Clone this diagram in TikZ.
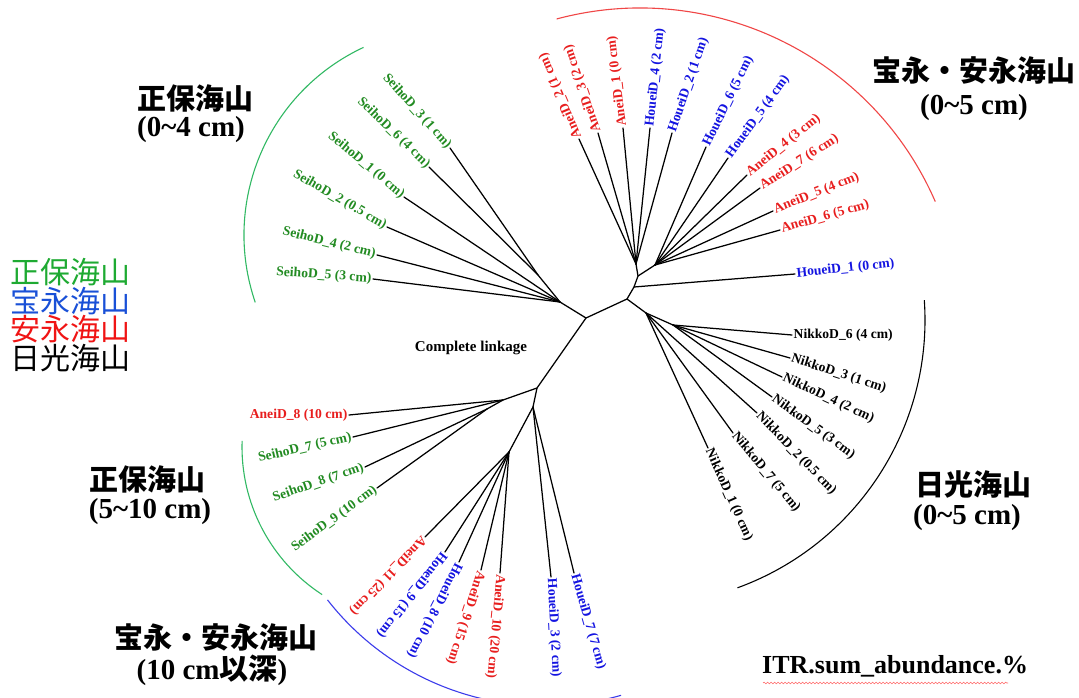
\documentclass[tikz,border=0pt]{standalone}
\usepackage{fontspec}
\setmainfont{Liberation Serif}
\newfontfamily\cjk{Noto Sans CJK JP}
\usetikzlibrary{decorations.pathmorphing}
\definecolor{lgreen}{RGB}{34,139,34}
\definecolor{lred}{RGB}{232,30,30}
\definecolor{lblue}{RGB}{20,20,225}
\definecolor{agreen}{RGB}{50,185,100}
\definecolor{ared}{RGB}{240,70,70}
\definecolor{ablue}{RGB}{60,60,235}
\definecolor{kgreen}{RGB}{30,170,50}
\definecolor{kblue}{RGB}{25,80,215}
\definecolor{kred}{RGB}{240,20,20}
\tikzset{
  tree/.style={line width=1.25pt, black, line cap=round},
  leaf/.style={font=\bfseries\fontsize{13.6}{14}\selectfont, inner sep=1.5pt},
  title/.style={font=\bfseries\fontsize{29}{30}\selectfont, inner sep=0pt},
  legend/.style={font=\cjk\fontsize{30}{30}\selectfont, inner sep=0pt, anchor=west},
  arcline/.style={line width=1.1pt}
}
\newcommand\leafR[6]{%
  \node[leaf,text=#5,rotate=#4,anchor=west] (#1) at (#3) {#6};
  \draw[tree] (#2) -- (#1.west);}
\newcommand\leafL[6]{%
  \node[leaf,text=#5,rotate=#4,anchor=east] (#1) at (#3) {#6};
  \draw[tree] (#2) -- (#1.east);}
\begin{document}
\begin{tikzpicture}[x=1pt,y=-1pt]
\useasboundingbox (0,0) rectangle (1079,698);
\clip (0,0) rectangle (1079,698);
\fill[white] (0,0) rectangle (1079,698);
% internal nodes
\coordinate (C1) at (586,318);
\coordinate (C2) at (627,299);
\coordinate (T0) at (634,287);
\coordinate (T1) at (638,276);
\coordinate (TA) at (636,264);
\coordinate (TB) at (655,265);
\coordinate (N0) at (646,313);
\coordinate (N1) at (673,325);
\coordinate (D) at (560,302);
\coordinate (D1) at (538,275);
\coordinate (E) at (537,388);
\coordinate (E1a) at (503,400);
\coordinate (E1b) at (487,409);
\coordinate (E2) at (533,407);
\coordinate (E3) at (509,452);
\draw[tree] (D1) -- (D) -- (C1) -- (C2) -- (T0) -- (T1) -- (TA);
\draw[tree] (T1) -- (TB);
\draw[tree] (C2) -- (N0) -- (N1);
\draw[tree] (C1) -- (E) -- (E1a) -- (E1b);
\draw[tree] (E) -- (E2) -- (E3);
% top cluster
\leafR{a2}{TA}{579,139}{113}{lred}{AneiD\_2 (1 cm)}
\leafR{a3}{TA}{598,133}{109}{lred}{AneiD\_3 (2 cm)}
\leafR{a1}{TA}{623,128}{97}{lred}{AneiD\_1 (0 cm)}
\leafR{h4}{TA}{650,128}{84}{lblue}{HoueiD\_4 (2 cm)}
\leafR{h2}{TA}{672,133}{71}{lblue}{HoueiD\_2 (1 cm)}
\leafR{h6}{TB}{706,147}{64}{lblue}{HoueiD\_6 (5 cm)}
\leafR{h5}{TB}{728,158}{54}{lblue}{HoueiD\_5 (4 cm)}
\leafR{a4}{TB}{747,175}{39}{lred}{AneiD\_4 (3 cm)}
\leafR{a7}{TB}{760,188}{33}{lred}{AneiD\_7 (6 cm)}
\leafR{a5}{TB}{773,211}{22}{lred}{AneiD\_5 (4 cm)}
\leafR{a6}{TB}{780,230}{16}{lred}{AneiD\_6 (5 cm)}
\leafR{h1}{T0}{795,274}{6}{lblue}{HoueiD\_1 (0 cm)}
% right cluster
\leafR{n6}{N1}{792,335}{0}{black}{NikkoD\_6 (4 cm)}
\leafR{n3}{N1}{790,358}{-18}{black}{NikkoD\_3 (1 cm)}
\leafR{n4}{N1}{782,377}{-25}{black}{NikkoD\_4 (2 cm)}
\leafR{n5}{N1}{772,397}{-36}{black}{NikkoD\_5 (3 cm)}
\leafR{n2}{N0}{757,413}{-46}{black}{NikkoD\_2 (0.5 cm)}
\leafR{n7}{N0}{733,433}{-50}{black}{NikkoD\_7 (5 cm)}
\leafR{n1}{N0}{708,448}{-66}{black}{NikkoD\_1 (0 cm)}
% left top cluster
\leafL{s3}{D1}{450,148}{-48}{lgreen}{SeihoD\_3 (1 cm)}
\leafL{s6}{D1}{429,167}{-44}{lgreen}{SeihoD\_6 (4 cm)}
\leafL{s1}{D}{404,197}{-40}{lgreen}{SeihoD\_1 (0 cm)}
\leafL{s2}{D}{387,227}{-30}{lgreen}{SeihoD\_2 (0.5 cm)}
\leafL{s4}{D}{377,255}{-14}{lgreen}{SeihoD\_4 (2 cm)}
\leafL{s5}{D}{373,279}{-4}{lgreen}{SeihoD\_5 (3 cm)}
% left bottom cluster
\leafL{a8}{E1a}{349,415}{0}{lred}{AneiD\_8 (10 cm)}
\leafL{s7}{E1a}{353,437}{13}{lgreen}{SeihoD\_7 (5 cm)}
\leafL{s8}{E1b}{365,467}{19}{lgreen}{SeihoD\_8 (7 cm)}
\leafL{s9}{E1b}{377,488}{36}{lgreen}{SeihoD\_9 (10 cm)}
% bottom cluster
\leafR{a11}{E3}{425,537}{-134}{lred}{AneiD\_11 (25 cm)}
\leafR{h9}{E3}{445,552}{-128}{lblue}{HoueiD\_9 (15 cm)}
\leafR{h8}{E3}{459,562}{-117}{lblue}{HoueiD\_8 (10 cm)}
\leafR{a9}{E3}{481,570}{-108}{lred}{AneiD\_9 (15 cm)}
\leafR{a10}{E3}{500,573}{-95}{lred}{AneiD\_10 (20 cm)}
\leafR{h3}{E2}{551,577}{-87}{lblue}{HoueiD\_3 (2 cm)}
\leafR{h7}{E2}{574,573}{-74}{lblue}{HoueiD\_7 (7 cm)}
% arcs
\draw[arcline, agreen] (451,235) ++(115:207pt) arc[start angle=115, end angle=199, radius=207pt];
\draw[arcline, ared] (640,330) ++(105:322pt) arc[start angle=105, end angle=23.5, radius=322pt];
\draw[arcline, black] (640,320) ++(4:285pt) arc[start angle=4, end angle=-70, radius=285pt];
\draw[arcline, agreen] (418,447) ++(178:176pt) arc[start angle=178, end angle=237, radius=176pt];
\draw[arcline, ablue] (545,430) ++(218:276pt) arc[start angle=218, end angle=286, radius=276pt];
% titles
\node[title] (t1a) at (195,98) {\cjk\bfseries 正保海山};
\node[title] (t1b) at (191,130) {(0\textasciitilde4 cm)};
\node[title] (t2a) at (974,70) {\cjk\bfseries 宝永・安永海山};
\node[title] (t2b) at (974,108) {(0\textasciitilde5 cm)};
\node[title] (t3a) at (973,484) {\cjk\bfseries 日光海山};
\node[title] (t3b) at (967,518) {(0\textasciitilde5 cm)};
\node[title] (t4a) at (147,479) {\cjk\bfseries 正保海山};
\node[title] (t4b) at (150,512) {(5\textasciitilde10 cm)};
\node[title] (t5a) at (216,637) {\cjk\bfseries 宝永・安永海山};
\node[title] (t5b) at (212,670) {(10 cm{\cjk\bfseries 以深})};
% legend
\node[legend, text=kgreen] (k1) at (10,272) {正保海山};
\node[legend, text=kblue] (k2) at (10,301) {宝永海山};
\node[legend, text=kred] (k3) at (10,329) {安永海山};
\node[legend, text=black] (k4) at (10,358) {日光海山};
% other labels
\node[font=\bfseries\fontsize{15}{15}\selectfont] (cl) at (471,348) {Complete linkage};
\node[font=\bfseries\fontsize{26}{26}\selectfont, inner sep=0pt, anchor=west] (itr) at (762,666) {ITR.sum\_abundance.\%};
\draw[red!60, line width=0.6pt, decorate, decoration={snake, amplitude=0.8pt, segment length=3.5pt}] (763,683) -- (1008,683);
\end{tikzpicture}
\end{document}
